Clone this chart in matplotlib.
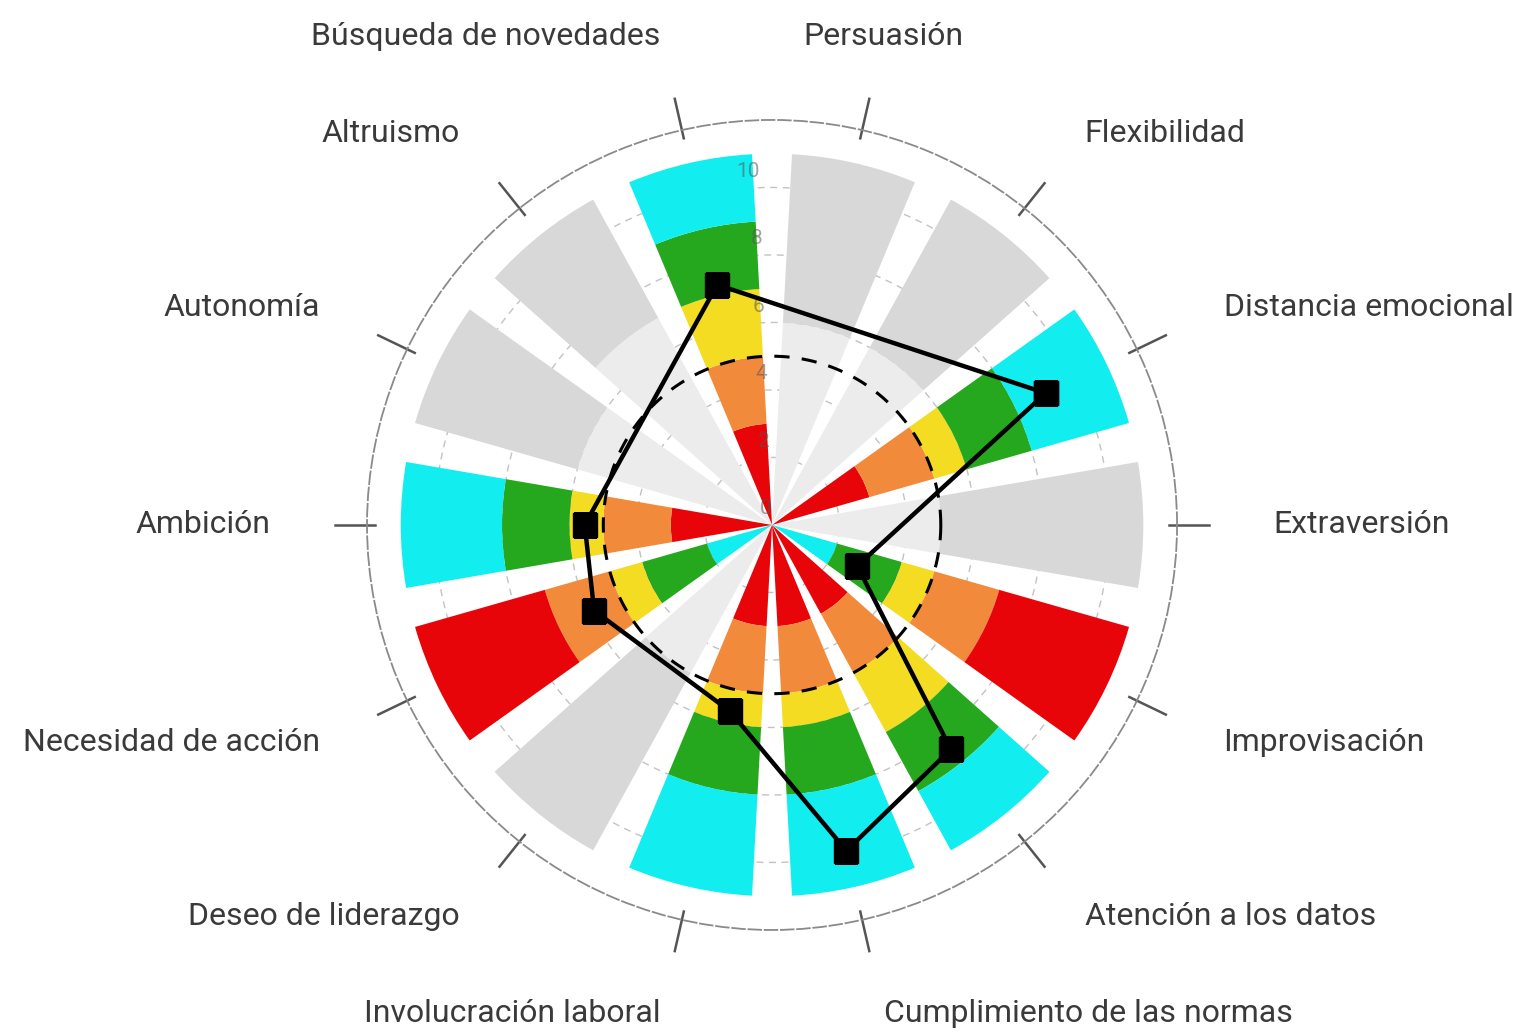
import numpy as np
import matplotlib
matplotlib.use('Agg')
import matplotlib.pyplot as plt

plt.rcParams['font.family'] = ['Roboto', 'DejaVu Sans']

# categorias en orden antihorario empezando por la derecha (este)
categorias = ['Extraversión', 'Distancia emocional', 'Flexibilidad', 'Persuasión',
              'Búsqueda de novedades', 'Altruismo', 'Autonomía', 'Ambición',
              'Necesidad de acción', 'Deseo de liderazgo', 'Involucración laboral',
              'Cumplimiento de las normas', 'Atención a los datos', 'Improvisación']

# tipo de barra: n = normal, i = invertida, g = gris (sin puntuación)
tipo = ['g', 'n', 'g', 'g', 'n', 'g', 'g', 'n', 'i', 'g', 'n', 'n', 'n', 'i']

# limites de las bandas de color (fin de la 1a, 2a, 3a y 4a banda)
lim1 = [0, 3, 0, 0, 3, 0, 0, 3, 2, 0, 3, 3, 3, 2]
lim2 = [0, 5, 0, 0, 5, 0, 0, 5, 4, 0, 5, 5, 5, 4]
lim3 = [0, 6, 0, 0, 7, 0, 0, 6, 5, 0, 6, 6, 7, 5]
lim4 = [0, 8, 0, 0, 9, 0, 0, 8, 7, 0, 8, 8, 9, 7]
tope = 11

# corte entre gris claro y gris en las barras sin puntuacion
corte_gris = [5, 0, 6, 6, 0, 7, 6, 0, 0, 5, 0, 0, 0, 0]

# puntuaciones (nan = sin puntuacion)
puntos = [np.nan, 9.0, np.nan, np.nan, 7.3, np.nan, np.nan, 5.55, 5.85, np.nan,
          5.65, 9.9, 8.5, 2.8]

media = 5
rticks = [0, 2, 4, 6, 8, 10]

colores = ['#e8050a', '#f28a3c', '#f3dc22', '#26a81e', '#12eef0']
gris_claro = '#ececec'
gris = '#d8d8d8'

n = len(categorias)
ang = np.arange(n) * 2 * np.pi / n
ancho = 0.76 * 2 * np.pi / n

fig = plt.figure(figsize=(15.19, 10.34), dpi=100)
ax = fig.add_axes([0.2416, 0.1006, 0.5333, 0.7834], projection='polar')
ax.set_ylim(0, 12)

for i in range(n):
    if tipo[i] == 'g':
        ax.bar(ang[i], corte_gris[i], width=ancho, bottom=0, color=gris_claro, zorder=2)
        ax.bar(ang[i], tope - corte_gris[i], width=ancho, bottom=corte_gris[i], color=gris, zorder=2)
        continue
    bordes = [0, lim1[i], lim2[i], lim3[i], lim4[i], tope]
    cols = colores if tipo[i] == 'n' else colores[::-1]
    for k in range(5):
        ax.bar(ang[i], bordes[k + 1] - bordes[k], width=ancho, bottom=bordes[k],
               color=cols[k], zorder=2)

# rejilla radial discontinua
ax.set_yticks(rticks[1:])
ax.set_yticklabels([])
ax.yaxis.grid(True, color='#9a9a9a', linestyle=(0, (5, 4)), linewidth=1.0, alpha=0.6)
ax.xaxis.grid(False)
ax.set_xticks([])
for gl in ax.yaxis.get_gridlines():
    gl.set_zorder(3)

for v in rticks:
    ax.text(np.deg2rad(92), v + 0.2, str(v), ha='right', va='bottom', fontsize=15,
            color='#555555', alpha=0.55, zorder=4)

# circulo de la media
t = np.linspace(0, 2 * np.pi, 400)
ax.plot(t, np.full_like(t, media), color='black', linestyle=(0, (5, 4)), linewidth=2.2, zorder=5)

# linea de puntuaciones
idx = [i for i in range(n) if not np.isnan(puntos[i])]
th = [ang[i] for i in idx] + [ang[idx[0]] + 2 * np.pi]
rr = [puntos[i] for i in idx] + [puntos[idx[0]]]
ax.plot(th, rr, color='black', linewidth=3.2, marker='s', markersize=17, zorder=6)

# borde exterior y marcas
ax.spines['polar'].set_color('#8a8a8a')
ax.spines['polar'].set_linewidth(1.3)
ax.spines['polar'].set_linestyle((0, (7, 2)))
for a in ang:
    ax.plot([a, a], [11.75, 12.95], color='#555555', linewidth=1.8, clip_on=False, zorder=1)

# etiquetas de las categorias
for i in range(n):
    c = np.cos(ang[i])
    if categorias[i] == 'Persuasión':
        ha = 'center'
    elif c > 0.01:
        ha = 'left'
    elif c < -0.01:
        ha = 'right'
    else:
        ha = 'center'
    ax.text(ang[i], 14.85, categorias[i], ha=ha, va='center', fontsize=23,
            color='#3a3a3a', clip_on=False)

fig.savefig('out.png', dpi=100, facecolor='white')
